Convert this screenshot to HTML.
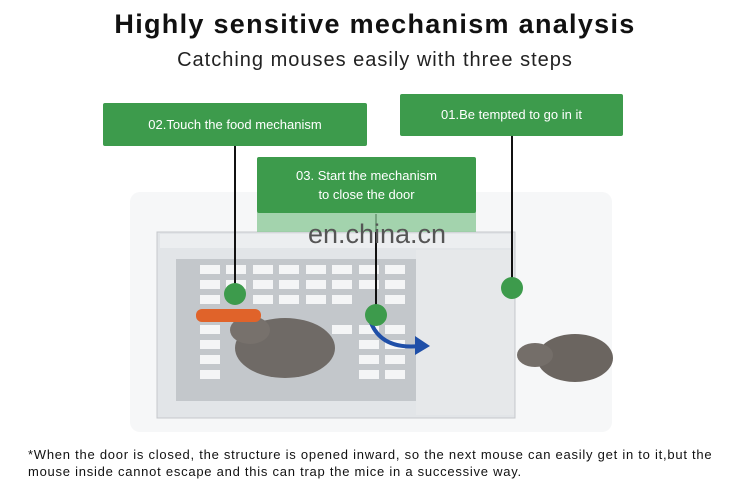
<!DOCTYPE html>
<html><head><style>
body{margin:0;width:750px;height:486px;background:#fff;position:relative;overflow:hidden;font-family:"Liberation Sans",sans-serif}
.a{position:absolute}
.g{position:absolute;background:#3d9b4c;color:#fff;text-align:center;font-size:14px;border-radius:2px}
</style></head><body>
<div class="a" style="left:0;top:9px;width:750px;text-align:center;font-size:27px;font-weight:bold;color:#111;letter-spacing:1.3px">Highly sensitive mechanism analysis</div>
<div class="a" style="left:0;top:49px;width:750px;text-align:center;font-size:20px;color:#222;letter-spacing:1px">Catching mouses easily with three steps</div>
<svg class="a" style="left:0;top:0" width="750" height="486">
<rect x="130" y="192" width="482" height="240" rx="10" fill="#f6f7f8"/>
<rect x="157" y="232" width="358" height="186" fill="#e2e5e8" stroke="#c5c8cc"/>
<rect x="160" y="234" width="352" height="14" fill="#eceef0"/>
<rect x="176" y="259" width="240" height="142" fill="#c3c7cb"/>
<g fill="#f4f5f6">
<rect x="200" y="265" width="20" height="9"/><rect x="226" y="265" width="20" height="9"/><rect x="253" y="265" width="20" height="9"/><rect x="279" y="265" width="20" height="9"/><rect x="306" y="265" width="20" height="9"/><rect x="332" y="265" width="20" height="9"/><rect x="359" y="265" width="20" height="9"/><rect x="385" y="265" width="20" height="9"/>
<rect x="200" y="280" width="20" height="9"/><rect x="226" y="280" width="20" height="9"/><rect x="253" y="280" width="20" height="9"/><rect x="279" y="280" width="20" height="9"/><rect x="306" y="280" width="20" height="9"/><rect x="332" y="280" width="20" height="9"/><rect x="359" y="280" width="20" height="9"/><rect x="385" y="280" width="20" height="9"/>
<rect x="200" y="295" width="20" height="9"/><rect x="253" y="295" width="20" height="9"/><rect x="279" y="295" width="20" height="9"/><rect x="306" y="295" width="20" height="9"/><rect x="332" y="295" width="20" height="9"/><rect x="385" y="295" width="20" height="9"/>
<rect x="200" y="325" width="20" height="9"/><rect x="332" y="325" width="20" height="9"/><rect x="359" y="325" width="20" height="9"/><rect x="385" y="325" width="20" height="9"/>
<rect x="200" y="340" width="20" height="9"/><rect x="359" y="340" width="20" height="9"/><rect x="385" y="340" width="20" height="9"/>
<rect x="200" y="355" width="20" height="9"/><rect x="359" y="355" width="20" height="9"/><rect x="385" y="355" width="20" height="9"/>
<rect x="200" y="370" width="20" height="9"/><rect x="359" y="370" width="20" height="9"/><rect x="385" y="370" width="20" height="9"/>
</g>
<rect x="416" y="250" width="98" height="165" fill="#e6e8ea"/>
<ellipse cx="285" cy="348" rx="50" ry="30" fill="#6f6a66"/>
<ellipse cx="250" cy="330" rx="20" ry="14" fill="#77716c"/>
<rect x="196" y="309" width="65" height="13" rx="6" fill="#e0632a"/>
<ellipse cx="575" cy="358" rx="38" ry="24" fill="#6b6560"/>
<ellipse cx="535" cy="355" rx="18" ry="12" fill="#746e69"/>
<path d="M370 320 Q380 350 420 346" fill="none" stroke="#1f4fa8" stroke-width="4"/>
<polygon points="415,336 430,346 415,355" fill="#1f4fa8"/>
<g stroke="#111" stroke-width="2"><line x1="235" y1="146" x2="235" y2="292"/><line x1="512" y1="136" x2="512" y2="286"/><line x1="376" y1="214" x2="376" y2="312"/></g>
<g fill="#3d9b4c"><circle cx="235" cy="294" r="11"/><circle cx="512" cy="288" r="11"/><circle cx="376" cy="315" r="11"/></g>
<rect x="257" y="212" width="219" height="20" fill="#8fc99a" opacity="0.8"/>
<text x="377" y="243" text-anchor="middle" font-family="Liberation Sans" font-size="27" fill="#555">en.china.cn</text>
</svg>
<div class="g" style="left:103px;top:103px;width:264px;height:43px;line-height:43px;font-size:13px">02.Touch the food mechanism</div>
<div class="g" style="left:400px;top:94px;width:223px;height:42px;line-height:42px;font-size:13px">01.Be tempted to go in it</div>
<div class="g" style="left:257px;top:157px;width:219px;height:56px;line-height:19px;padding-top:9px;box-sizing:border-box;font-size:13px">03. Start the mechanism<br>to close the door</div>
<div class="a" style="left:28px;top:446px;width:720px;font-size:13px;line-height:17px;color:#111;letter-spacing:0.75px;white-space:nowrap">*When the door is closed, the structure is opened inward, so the next mouse can easily get in to it,but the<br>mouse inside cannot escape and this can trap the mice in a successive way.</div>
</body></html>
